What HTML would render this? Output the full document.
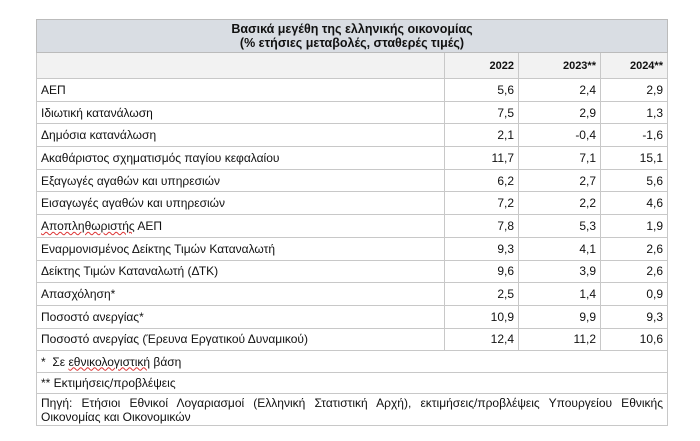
<!DOCTYPE html>
<html><head><meta charset="utf-8"><style>
body{margin:0;background:#fff;width:700px;height:441px;overflow:hidden;font-family:"Liberation Sans",Arial,sans-serif;color:#111}
table{position:absolute;left:36px;top:19px;width:632px;border-collapse:collapse;font-size:12px}
td{border:1px solid #c8c8c8;padding:0 4px;height:22.7px;box-sizing:border-box}
.t{background:#d9dde3;text-align:center;font-weight:bold;font-size:12.5px;line-height:14px;height:33px;border-color:#bbb}
.h td{background:#f2f2f2;font-weight:bold;text-align:right;height:26px;font-size:11px}
td.n{text-align:right}
.f td{height:21.5px}
.u{text-decoration:underline wavy #d33;text-decoration-thickness:1px}
</style></head><body>
<table>
<tr><td colspan="4" class="t">Βασικά μεγέθη της ελληνικής οικονομίας<br>(% ετήσιες μεταβολές, σταθερές τιμές)</td></tr>
<tr class="h"><td style="width:408px"></td><td style="width:74px">2022</td><td style="width:82px">2023**</td><td>2024**</td></tr>
<tr><td>ΑΕΠ</td><td class="n">5,6</td><td class="n">2,4</td><td class="n">2,9</td></tr>
<tr><td>Ιδιωτική κατανάλωση</td><td class="n">7,5</td><td class="n">2,9</td><td class="n">1,3</td></tr>
<tr><td>Δημόσια κατανάλωση</td><td class="n">2,1</td><td class="n">-0,4</td><td class="n">-1,6</td></tr>
<tr><td>Ακαθάριστος σχηματισμός παγίου κεφαλαίου</td><td class="n">11,7</td><td class="n">7,1</td><td class="n">15,1</td></tr>
<tr><td>Εξαγωγές αγαθών και υπηρεσιών</td><td class="n">6,2</td><td class="n">2,7</td><td class="n">5,6</td></tr>
<tr><td>Εισαγωγές αγαθών και υπηρεσιών</td><td class="n">7,2</td><td class="n">2,2</td><td class="n">4,6</td></tr>
<tr><td><span class="u">Αποπληθωριστής</span> ΑΕΠ</td><td class="n">7,8</td><td class="n">5,3</td><td class="n">1,9</td></tr>
<tr><td>Εναρμονισμένος Δείκτης Τιμών Καταναλωτή</td><td class="n">9,3</td><td class="n">4,1</td><td class="n">2,6</td></tr>
<tr><td>Δείκτης Τιμών Καταναλωτή (ΔΤΚ)</td><td class="n">9,6</td><td class="n">3,9</td><td class="n">2,6</td></tr>
<tr><td>Απασχόληση*</td><td class="n">2,5</td><td class="n">1,4</td><td class="n">0,9</td></tr>
<tr><td>Ποσοστό ανεργίας*</td><td class="n">10,9</td><td class="n">9,9</td><td class="n">9,3</td></tr>
<tr><td>Ποσοστό ανεργίας (Έρευνα Εργατικού Δυναμικού)</td><td class="n">12,4</td><td class="n">11,2</td><td class="n">10,6</td></tr>
<tr class="f"><td colspan="4">*&nbsp; Σε <span class="u">εθνικολογιστική</span> βάση</td></tr>
<tr class="f"><td colspan="4">** Εκτιμήσεις/προβλέψεις</td></tr>
<tr><td colspan="4" style="text-align:justify;text-align-last:left;line-height:14px;height:32px">Πηγή: Ετήσιοι Εθνικοί Λογαριασμοί (Ελληνική Στατιστική Αρχή), εκτιμήσεις/προβλέψεις Υπουργείου Εθνικής Οικονομίας και Οικονομικών</td></tr>
</table>
</body></html>
